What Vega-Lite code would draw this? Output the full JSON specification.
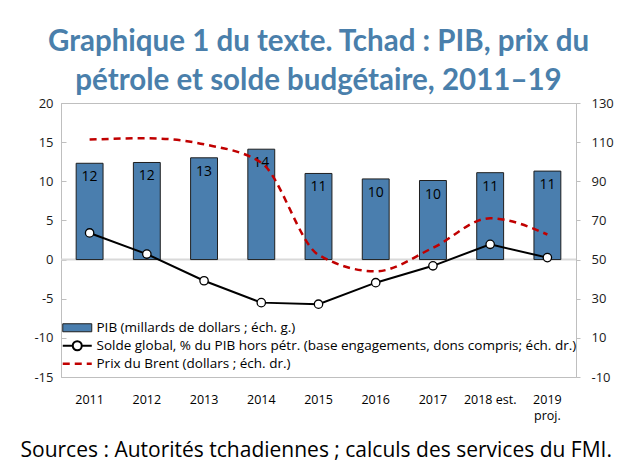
{
  "$schema": "https://vega.github.io/schema/vega-lite/v6.json",
  "width": 515,
  "height": 274,
  "autosize": {"type": "none"},
  "padding": {"left": 61, "top": 103, "right": 46, "bottom": 84},
  "background": "white",
  "config": {
    "font": "Open Sans",
    "view": {"stroke": "#bfbfbf", "strokeWidth": 1},
    "axis": {"labelFont": "Open Sans", "labelFontSize": 13, "labelColor": "#1a1a1a", "domainColor": "#bfbfbf", "tickColor": "#bfbfbf", "grid": false, "labelOverlap": false}
  },
  "title": {
    "text": ["Graphique 1 du texte. Tchad : PIB, prix du", "pétrole et solde budgétaire, 2011–19"],
    "font": "Lato",
    "fontSize": 29.5,
    "fontWeight": "bold",
    "color": "#4a7fab",
    "anchor": "middle",
    "offset": 1,
    "lineHeight": 39
  },
  "data": {
    "values": [
      {"annee": "2011", "pib": 12.3, "solde": 3.4, "brent": 111.3},
      {"annee": "2012", "pib": 12.4, "solde": 0.7, "brent": 112.0},
      {"annee": "2013", "pib": 13.0, "solde": -2.7, "brent": 108.9},
      {"annee": "2014", "pib": 14.1, "solde": -5.5, "brent": 99.5},
      {"annee": "2015", "pib": 11.0, "solde": -5.7, "brent": 52.4},
      {"annee": "2016", "pib": 10.3, "solde": -2.95, "brent": 44.0},
      {"annee": "2017", "pib": 10.1, "solde": -0.8, "brent": 56.0},
      {"annee": "2018 est.", "pib": 11.1, "solde": 1.95, "brent": 71.1},
      {"annee": "2019 proj.", "pib": 11.3, "solde": 0.25, "brent": 62.8}
    ]
  },
  "layer": [
    {
      "layer": [
        {
          "data": {"values": [{"zero": 0}]},
          "mark": {"type": "rule", "color": "#d9d9d9", "strokeWidth": 2},
          "encoding": {
            "y": {
              "field": "zero", "type": "quantitative",
              "scale": {"domain": [-15, 20], "nice": false, "zero": false},
              "axis": {"title": null, "values": [-15, -10, -5, 0, 5, 10, 15, 20], "tickCount": 10, "tickSize": -5, "labelPadding": 13, "labelOverlap": false, "labelExpr": "toString(datum.value)"}
            }
          }
        },
        {
          "mark": {"type": "bar", "stroke": "#1f1f1f", "strokeWidth": 1},
          "encoding": {
            "x": {
              "field": "annee", "type": "nominal", "sort": null,
              "scale": {"paddingInner": 0.53, "paddingOuter": 0.265},
              "axis": {
                "title": "Sources : Autorités tchadiennes ; calculs des services du FMI.",
                "titleFont": "Open Sans", "titleFontSize": 21, "titleFontWeight": "normal", "titleColor": "black",
                "titleAnchor": "start", "titleAlign": "left", "titleX": -41, "titleY": 79, "titleBaseline": "alphabetic",
                "labelAngle": 0, "ticks": false, "domain": false, "labelPadding": 16, "labelFontSize": 12.5, "labelColor": "black",
                "labelExpr": "datum.value == '2019 proj.' ? ['2019', 'proj.'] : datum.label",
                "labelLineHeight": 16
              }
            },
            "y": {
              "field": "pib", "type": "quantitative",
              "scale": {"domain": [-15, 20], "nice": false, "zero": false},
              "axis": {"title": null, "values": [-15, -10, -5, 0, 5, 10, 15, 20], "tickCount": 10, "tickSize": -5, "labelPadding": 13, "labelOverlap": false, "labelExpr": "toString(datum.value)"}
            },
            "fill": {
              "datum": "PIB (millards de dollars ; éch. g.)",
              "scale": {"range": ["#4a7eae"]},
              "legend": {
                "title": null, "orient": "none", "legendX": 0, "legendY": 218,
                "symbolType": "M-1,-0.8H4.8V0.8H-1Z", "symbolSize": 100, "symbolStrokeColor": "#1f1f1f", "symbolStrokeWidth": 1, "symbolOpacity": 1,
                "labelOffset": 22, "labelFont": "Open Sans", "labelFontSize": 13.5, "labelColor": "black", "labelLimit": 700, "padding": 0
              }
            }
          }
        },
        {
          "mark": {"type": "text", "baseline": "top", "dy": 7, "fontSize": 14, "font": "Open Sans", "color": "black"},
          "encoding": {
            "x": {"field": "annee", "type": "nominal", "sort": null},
            "y": {"field": "pib", "type": "quantitative"},
            "text": {"field": "pib", "type": "quantitative", "format": ".0f"}
          }
        },
        {
          "mark": {"type": "line", "strokeWidth": 2},
          "encoding": {
            "x": {"field": "annee", "type": "nominal", "sort": null},
            "y": {"field": "solde", "type": "quantitative"},
            "stroke": {
              "datum": "Solde global, % du PIB hors pétr. (base engagements, dons compris; éch. dr.)",
              "scale": {"range": ["black"]},
              "legend": {
                "title": null, "orient": "none", "legendX": 0, "legendY": 236,
                "symbolType": "M-1,0H1A0.9,0.9 0 1,1 2.8,0A0.9,0.9 0 1,1 1,0M2.8,0H4.8", "symbolSize": 100, "symbolFillColor": "white", "symbolStrokeWidth": 2, "symbolOpacity": 1,
                "labelOffset": 22, "labelFont": "Open Sans", "labelFontSize": 13.5, "labelColor": "black", "labelLimit": 700, "padding": 0
              }
            }
          }
        },
        {
          "mark": {"type": "point", "shape": "circle", "filled": true, "fill": "white", "stroke": "black", "strokeWidth": 1.3, "size": 70, "opacity": 1},
          "encoding": {
            "x": {"field": "annee", "type": "nominal", "sort": null},
            "y": {"field": "solde", "type": "quantitative"}
          }
        }
      ]
    },
    {
      "mark": {"type": "line", "strokeWidth": 2.5, "color": "#c00000", "interpolate": "monotone"},
      "encoding": {
        "x": {"field": "annee", "type": "nominal", "sort": null},
        "y": {
          "field": "brent", "type": "quantitative",
          "scale": {"domain": [-10, 130], "nice": false, "zero": false},
          "axis": {"title": null, "orient": "right", "values": [-10, 10, 30, 50, 70, 90, 110, 130], "tickCount": 10, "tickSize": 4, "labelPadding": 11, "labelExpr": "toString(datum.value)"}
        },
        "strokeDash": {
          "datum": "Prix du Brent (dollars ; éch. dr.)",
          "scale": {"range": [[7, 5]]},
          "legend": {
            "title": null, "orient": "none", "legendX": 0, "legendY": 254,
            "symbolType": "M-1,0H4.8", "symbolSize": 100, "symbolStrokeColor": "#c00000", "symbolStrokeWidth": 2.5, "symbolOpacity": 1,
            "labelOffset": 22, "labelFont": "Open Sans", "labelFontSize": 13.5, "labelColor": "black", "labelLimit": 700, "padding": 0
          }
        }
      }
    }
  ],
  "resolve": {"scale": {"y": "independent"}}
}
